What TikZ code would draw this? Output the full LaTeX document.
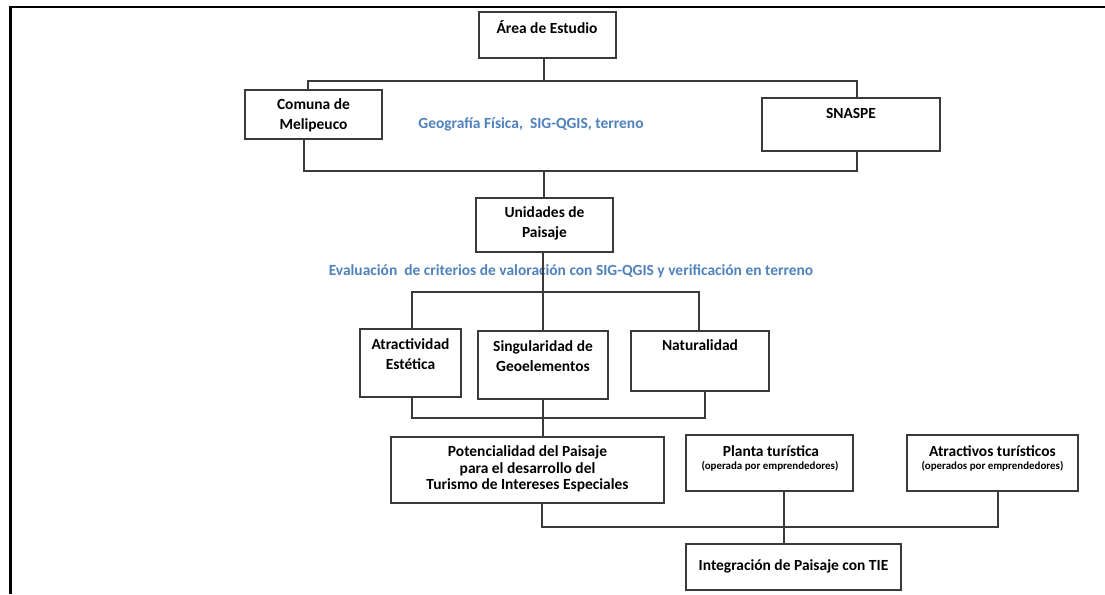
\documentclass[tikz,border=0pt]{standalone}
\usepackage{fontspec}
\setmainfont{Carlito}
\definecolor{lineg}{HTML}{3A3A3A}
\definecolor{accblue}{HTML}{4F81BD}
\tikzset{
  box/.style={draw=lineg, line width=0.9pt, rectangle, inner sep=0pt},
  txt/.style={font=\bfseries\fontsize{11.6}{15}\selectfont, align=center, inner sep=0pt},
  small/.style={font=\bfseries\fontsize{8.2}{10}\selectfont, inner sep=0pt},
  note/.style={font=\bfseries\fontsize{11.6}{13}\selectfont, text=accblue, inner sep=0pt},
  conn/.style={draw=lineg, line width=0.9pt},
}
\begin{document}
\begin{tikzpicture}[x=0.75pt,y=-0.75pt]
\useasboundingbox (0,0) rectangle (1105,594);
% frame
\draw[line width=1.6pt, black] (10.5,594) -- (10.5,7) -- (1105,7);

% boxes
\node[box, minimum width=137*0.75pt, minimum height=46*0.75pt] (area) at (547.5,35) {};
\node[txt] (tarea) at (547,27) {Área de Estudio};
\node[box, minimum width=137*0.75pt, minimum height=49*0.75pt] (comuna) at (313.5,114.5) {};
\node[txt] (tcomuna) at (313.5,115) {Comuna de\\Melipeuco};
\node[box, minimum width=178*0.75pt, minimum height=53*0.75pt] (snaspe) at (851,124.5) {};
\node[txt] (tsnaspe) at (851,113) {SNASPE};
\node[note] (geo) at (531,124) {Geografía Física,\ \ SIG-QGIS, terreno};

\node[box, minimum width=137*0.75pt, minimum height=54*0.75pt] (unid) at (544.5,225) {};
\node[txt] (tunid) at (544.5,223) {Unidades de\\Paisaje};
\node[note] (eval) at (571,271) {Evaluación\ \ de criterios de valoración con SIG-QGIS y verificación en terreno};

\node[box, minimum width=101*0.75pt, minimum height=68*0.75pt] (atr) at (410.5,363) {};
\node[txt] (tatr) at (410.5,354) {Atractividad\\Estética};
\node[box, minimum width=130*0.75pt, minimum height=68*0.75pt] (sing) at (543,365) {};
\node[txt] (tsing) at (543,356) {Singularidad de\\Geoelementos};
\node[box, minimum width=138*0.75pt, minimum height=60*0.75pt] (nat) at (700,361) {};
\node[txt] (tnat) at (700,345) {Naturalidad};

\node[box, minimum width=273*0.75pt, minimum height=66*0.75pt] (pot) at (527.5,470) {};
\node[txt, font=\bfseries\fontsize{11.6}{12.2}\selectfont] (tpot) at (527.5,469) {Potencialidad del Paisaje\\para el desarrollo del\\Turismo de Intereses Especiales};
\node[box, minimum width=167*0.75pt, minimum height=56*0.75pt] (planta) at (769.5,463) {};
\node[txt] (tplanta) at (771,451) {Planta turística};
\node[small] (splanta) at (770,466) {(operada por emprendedores)};
\node[box, minimum width=171*0.75pt, minimum height=56*0.75pt] (atrac) at (992.5,463) {};
\node[txt] (tatrac) at (992.5,451) {Atractivos turísticos};
\node[small] (satrac) at (992.5,466) {(operados por emprendedores)};

\node[box, minimum width=215*0.75pt, minimum height=46*0.75pt] (integ) at (793.5,567) {};
\node[txt] (tinteg) at (793.5,566) {Integración de Paisaje con TIE};

% junction coordinates
\coordinate (j1) at (544,81);
\coordinate (j2) at (544,171);
\coordinate (j3) at (543,292);
\coordinate (j4) at (543,418);
\coordinate (j5) at (784,527);

% connectors
\draw[conn] (area.south -| j1) -- (j1);
\draw[conn] (comuna.north -| 308,0) |- (j1) -| (snaspe.north -| 857,0);
\draw[conn] (comuna.south -| 304,0) |- (j2) -| (snaspe.south -| 857,0);
\draw[conn] (j2) -- (unid.north -| j2);
\draw[conn] (unid.south -| j3) -- (sing.north -| j3);
\draw[conn] (atr.north -| 412,0) |- (j3) -| (nat.north -| 699,0);
\draw[conn] (atr.south -| 412,0) |- (j4) -| (nat.south -| 705,0);
\draw[conn] (sing.south -| j4) -- (pot.north -| j4);
\draw[conn] (pot.south -| 542,0) |- (j5) -| (atrac.south -| 998,0);
\draw[conn] (planta.south -| j5) -- (integ.north -| j5);
\end{tikzpicture}
\end{document}
